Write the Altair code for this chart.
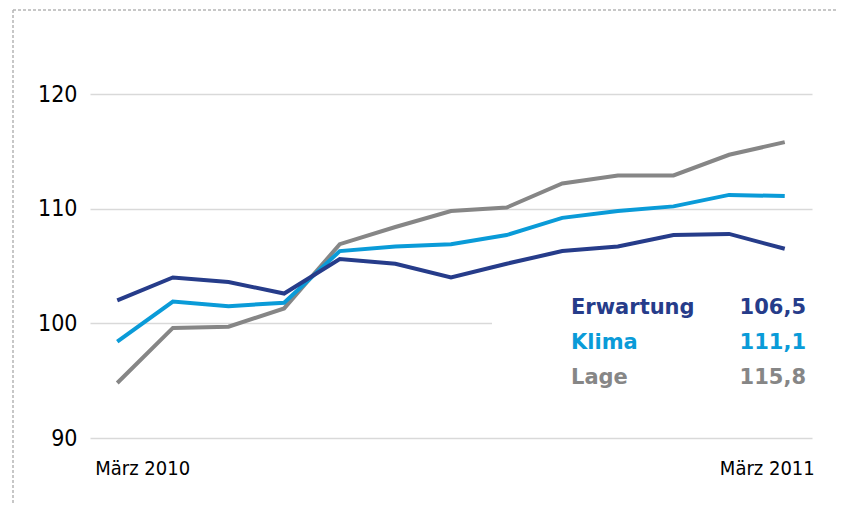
import altair as alt
import pandas as pd

# Data (monthly, März 2010 .. März 2011)
months = list(range(13))
erwartung = [102.0, 104.0, 103.6, 102.6, 105.6, 105.2, 104.0, 105.2, 106.3, 106.7, 107.7, 107.8, 106.5]
klima = [98.4, 101.9, 101.5, 101.8, 106.3, 106.7, 106.9, 107.7, 109.2, 109.8, 110.2, 111.2, 111.1]
lage = [94.8, 99.6, 99.7, 101.3, 106.9, 108.4, 109.8, 110.1, 112.2, 112.9, 112.9, 114.7, 115.8]
series_names = ["Erwartung", "Klima", "Lage"]
series_labels = ["106,5", "111,1", "115,8"]
series_colors = ["#263c8a", "#0a9bd8", "#868686"]
x_tick_labels = ["März 2010", "März 2011"]
y_ticks = [90, 100, 110, 120]

rows = []
for name, vals in zip(series_names, [erwartung, klima, lage]):
    for m, v in zip(months, vals):
        rows.append({"m": m, "series": name, "v": v})
df = pd.DataFrame(rows)

xs = alt.Scale(domain=[-0.49, 12.49], nice=False, zero=False)
ys = alt.Scale(domain=[90, 120], nice=False, zero=False)

base = alt.Chart(df)

# axis / grid layer
grid = base.mark_line(opacity=0).encode(
    x=alt.X("m:Q", scale=xs, axis=None),
    y=alt.Y("v:Q", scale=ys, axis=alt.Axis(
        values=y_ticks, title=None, domain=False, ticks=False,
        grid=True, gridColor="#d9d9d9", gridWidth=1.5,
        labelFont="DejaVu Sans Condensed", labelFontSize=23, labelColor="#000000",
        labelPadding=13)),
)

one = pd.DataFrame({"a": [0]})
legend_box = alt.Chart(one).mark_rect(color="white").encode(
    x=alt.value(402), x2=alt.value(724), y=alt.value(191), y2=alt.value(301)
)

border = [
    alt.Chart(one).mark_rule(color="#b5b5b5", strokeWidth=1.5, strokeDash=[3, 2]).encode(
        x=alt.value(-77), y=alt.value(-84), y2=alt.value(420)),
    alt.Chart(one).mark_rule(color="#b5b5b5", strokeWidth=1.5, strokeDash=[3, 2]).encode(
        x=alt.value(-77), x2=alt.value(760), y=alt.value(-84)),
]

lines = []
for name, col in reversed(list(zip(series_names, series_colors))):
    lines.append(
        base.transform_filter(alt.datum.series == name).mark_line(
            color=col, strokeWidth=4, strokeJoin="miter", strokeCap="butt"
        ).encode(x=alt.X("m:Q", scale=xs), y=alt.Y("v:Q", scale=ys))
    )

xlab_df = pd.DataFrame({"m": [0, 12], "t": x_tick_labels})
xlab_left = alt.Chart(xlab_df.iloc[[0]]).mark_text(
    align="left", baseline="alphabetic", dx=-22, font="DejaVu Sans Condensed",
    fontSize=20, color="#000000").encode(
    x=alt.X("m:Q", scale=xs), y=alt.value(381), text="t:N")
xlab_right = alt.Chart(xlab_df.iloc[[1]]).mark_text(
    align="right", baseline="alphabetic", dx=30, font="DejaVu Sans Condensed",
    fontSize=20, color="#000000").encode(
    x=alt.X("m:Q", scale=xs), y=alt.value(381), text="t:N")

legend = []
for i, (name, lab, col) in enumerate(zip(series_names, series_labels, series_colors)):
    ldf = pd.DataFrame({"name": [name], "lab": [lab]})
    legend.append(alt.Chart(ldf).mark_text(
        align="left", baseline="alphabetic", font="DejaVu Sans", fontWeight="bold",
        fontSize=21, color=col).encode(
        x=alt.value(481), y=alt.value(220 + 35 * i), text="name:N"))
    legend.append(alt.Chart(ldf).mark_text(
        align="right", baseline="alphabetic", font="DejaVu Sans", fontWeight="bold",
        fontSize=21, color=col).encode(
        x=alt.value(716), y=alt.value(220 + 35 * i), text="lab:N"))

chart = alt.layer(
    grid, legend_box, *border, *lines, xlab_left, xlab_right, *legend
).properties(
    width=722, height=344,
    padding={"left": 82, "top": 86, "right": 25, "bottom": 65},
    autosize=alt.AutoSizeParams(type="none"),
    background="white",
).configure_view(stroke=None)

chart.save("out.html", embed_options={"renderer": "svg", "actions": False})
